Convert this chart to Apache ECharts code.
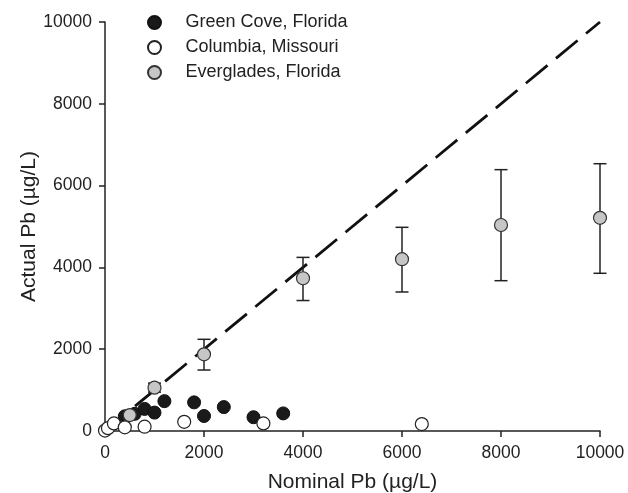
<!DOCTYPE html>
<html>
<head>
<meta charset="utf-8">
<script src="https://cdn.jsdelivr.net/npm/echarts@6/dist/echarts.min.js"></script>
<style>html,body{margin:0;padding:0;background:#fff}#c{width:628px;height:493px}</style>
</head>
<body>
<div id="c"></div>
<script>
var greenCoveX = [400, 600, 800, 1000, 1200, 1800, 2000, 2400, 3000, 3600];
var greenCoveY = [360, 420, 540, 450, 730, 700, 367, 585, 337, 430];
var columbiaX = [0, 60, 180, 400, 800, 1600, 3200, 6400];
var columbiaY = [10, 70, 185, 90, 105, 225, 185, 170];
var evergladesX = [500, 1000, 2000, 4000, 6000, 8000, 10000];
var evergladesY = [390, 1060, 1875, 3735, 4200, 5037, 5212];
var evergladesLow = [390, 950, 1491, 3190, 3399, 3675, 3856];
var evergladesHigh = [390, 1170, 2242, 4245, 4980, 6390, 6535];
var lineX = [0, 10000];
var lineY = [0, 10000];
var xTicks = [0, 2000, 4000, 6000, 8000, 10000];
var yTicks = [0, 2000, 4000, 6000, 8000, 10000];

function zip(a, b) { return a.map(function (v, i) { return [v, b[i]]; }); }

var chart = echarts.init(document.getElementById('c'), null, { renderer: 'canvas' });
var FONT = 'Liberation Sans, Arial, Helvetica, sans-serif';
var TXT = '#222';

chart.setOption({
  animation: false,
  backgroundColor: '#fff',
  textStyle: { fontFamily: FONT },
  grid: { left: 105, right: 28, top: 22, bottom: 62, containLabel: false, outerBoundsMode: 'none' },
  legend: {
    orient: 'vertical',
    left: 147,
    top: 13.5,
    padding: 0,
    itemWidth: 52,
    itemHeight: 13,
    itemGap: 7,
    textStyle: { fontSize: 18, color: TXT, fontFamily: FONT },
    data: ['Green Cove, Florida', 'Columbia, Missouri', 'Everglades, Florida']
  },
  xAxis: {
    type: 'value', min: 0, max: 10000, interval: 2000,
    name: 'Nominal Pb (\u00b5g/L)', nameLocation: 'middle', nameGap: 41, nameMoveOverlap: false,
    nameTextStyle: { fontSize: 21, color: TXT, fontFamily: FONT },
    axisLine: { show: true, onZero: false, lineStyle: { color: '#222', width: 1.5 } },
    axisTick: { show: true, inside: false, length: 6, lineStyle: { color: '#222', width: 1.5 } },
    axisLabel: { fontSize: 17.5, color: TXT, margin: 13.5, fontFamily: FONT,
      formatter: function (v) { return xTicks.indexOf(v) >= 0 ? String(v) : ''; } },
    splitLine: { show: false }
  },
  yAxis: {
    type: 'value', min: 0, max: 10000, interval: 2000,
    name: 'Actual Pb (\u00b5g/L)', nameLocation: 'middle', nameGap: 65, nameMoveOverlap: false,
    nameTextStyle: { fontSize: 21, color: TXT, fontFamily: FONT },
    axisLine: { show: true, onZero: false, lineStyle: { color: '#222', width: 1.5 } },
    axisTick: { show: true, inside: false, length: 6, lineStyle: { color: '#222', width: 1.5 } },
    axisLabel: { fontSize: 17.5, color: TXT, margin: 13, fontFamily: FONT,
      formatter: function (v) { return yTicks.indexOf(v) >= 0 ? String(v) : ''; } },
    splitLine: { show: false }
  },
  series: [
    {
      name: '1:1', type: 'line', data: zip(lineX, lineY), symbol: 'none', z: 1,
      lineStyle: { color: '#111', width: 2.8, type: [28, 11] }, silent: true
    },
    {
      name: 'Green Cove, Florida', type: 'scatter', data: zip(greenCoveX, greenCoveY),
      symbol: 'circle', symbolSize: 13, z: 3,
      itemStyle: { color: '#1a1a1a', borderColor: '#111', borderWidth: 1, opacity: 1 }
    },
    {
      name: 'Columbia, Missouri', type: 'scatter', data: zip(columbiaX, columbiaY),
      symbol: 'circle', symbolSize: 13, z: 4,
      itemStyle: { color: '#fff', borderColor: '#222', borderWidth: 1.2, opacity: 1 }
    },
    {
      name: 'errbars', type: 'custom', z: 5, silent: true,
      data: evergladesX.map(function (x, i) { return [x, evergladesLow[i], evergladesHigh[i]]; }),
      renderItem: function (params, api) {
        var x = api.value(0);
        var lo = api.coord([x, api.value(1)]);
        var hi = api.coord([x, api.value(2)]);
        var w = 6.5;
        var st = { stroke: '#222', lineWidth: 1.5 };
        return {
          type: 'group',
          children: [
            { type: 'line', shape: { x1: lo[0], y1: lo[1], x2: hi[0], y2: hi[1] }, style: st },
            { type: 'line', shape: { x1: hi[0] - w, y1: hi[1], x2: hi[0] + w, y2: hi[1] }, style: st },
            { type: 'line', shape: { x1: lo[0] - w, y1: lo[1], x2: lo[0] + w, y2: lo[1] }, style: st }
          ]
        };
      }
    },
    {
      name: 'Everglades, Florida', type: 'scatter', data: zip(evergladesX, evergladesY),
      symbol: 'circle', symbolSize: 13, z: 6,
      itemStyle: { color: '#c6c6c6', borderColor: '#333', borderWidth: 1.2, opacity: 1 }
    }
  ]
});
</script>
</body>
</html>
